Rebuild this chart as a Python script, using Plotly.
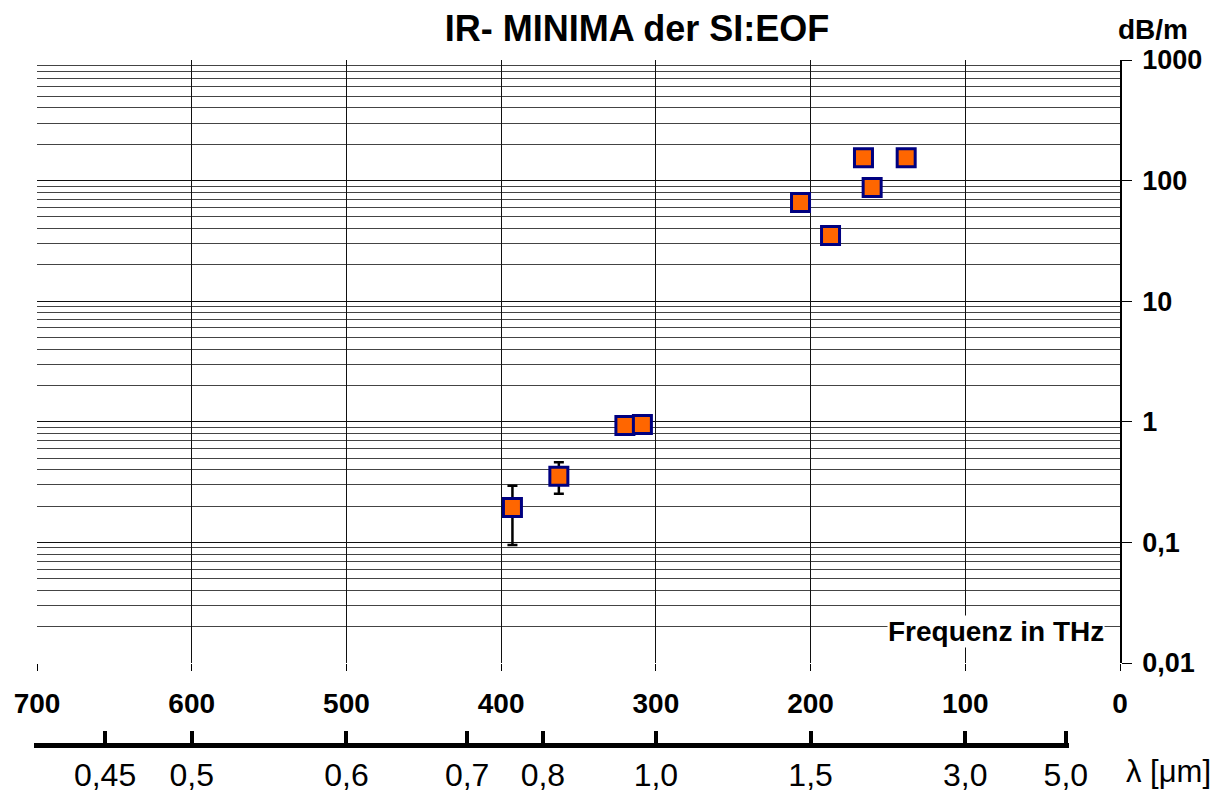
import plotly.graph_objects as go

# ---- data ----
freq_thz = [392.7, 362.7, 320.0, 308.7, 206.5, 187.1, 165.8, 160.2, 138.2]
loss_db_m = [0.195, 0.353, 0.93, 0.95, 65.7, 35.0, 155.0, 87.5, 155.0]
err_plus = [0.10, 0.11, None, None, None, None, None, None, None]
err_minus = [0.10, 0.10, None, None, None, None, None, None, None]

freq_ticks = [700, 600, 500, 400, 300, 200, 100, 0]
y_major = [0.01, 0.1, 1, 10, 100, 1000]
y_major_text = ["0,01", "0,1", "1", "10", "100", "1000"]

wl_tick_freq = [656, 600, 500, 422, 373, 300, 200, 100, 35]
wl_tick_text = ["0,45", "0,5", "0,6", "0,7", "0,8", "1,0", "1,5", "3,0", "5,0"]

FONT = "Liberation Sans, Arial, sans-serif"

# ---- layout geometry (page body has an 8px margin) ----
OFF = 8
W, H = 1230 - OFF, 798 - OFF
ml, mr, mt, mb = 34 - OFF, 110, 60 - OFF, 20 - OFF
plot_h = H - mt - mb
plot_w = W - ml - mr
x_left_px, x_right_px = 37 - OFF, 1120 - OFF
y_bottom_px = 663 - OFF
wl_line_px = 743 - OFF
ydom0 = (H - mb - y_bottom_px) / plot_h
wl_pos = (H - mb - wl_line_px) / plot_h
x_dom = [(x_left_px - ml) / plot_w, 1.0]
span_px = x_right_px - x_left_px
wl_start_px, wl_end_px = 34 - OFF, 1069 - OFF
wl_dom = [(wl_start_px - ml) / plot_w, (wl_end_px - ml) / plot_w]
x_range = [700, 0]
wl_range = [700 + (x_left_px - wl_start_px) / span_px * 700,
            700 - (wl_end_px - x_left_px) / span_px * 700]


def px_x(px):
    return (px - OFF - ml) / plot_w


def px_y(px):
    return (H - mb - (px - OFF)) / plot_h


minor_vals = [k * 10 ** d for d in range(-2, 3) for k in range(2, 10)]

fig = go.Figure()
fig.add_trace(go.Scatter(
    x=freq_thz, y=loss_db_m, mode="markers",
    marker=dict(symbol="square", size=18, color="#FF6600",
                line=dict(color="#000080", width=3)),
    error_y=dict(type="data", symmetric=False, array=err_plus,
                 arrayminus=err_minus, color="black", thickness=2.5, width=5),
    showlegend=False, hoverinfo="x+y",
))
# dummy trace to materialise the wavelength axis (separate thin subplot)
fig.add_trace(go.Scatter(x=wl_tick_freq, y=[None] * len(wl_tick_freq),
                         xaxis="x2", yaxis="y2", mode="markers",
                         showlegend=False, hoverinfo="skip"))

fig.update_layout(
    width=W, height=H,
    margin=dict(l=ml, r=mr, t=mt, b=mb),
    paper_bgcolor="white", plot_bgcolor="white",
    font=dict(family=FONT, color="black"),
    title=dict(text="<b>IR- MINIMA der SI:EOF</b>", xref="container",
               x=(637 - OFF) / W, xanchor="center", yref="container",
               y=1 - (28 - OFF) / H, yanchor="middle",
               font=dict(size=36, family=FONT, color="black")),
    xaxis=dict(range=x_range, domain=x_dom, anchor="y", automargin=False,
               tickvals=freq_ticks, ticktext=[f"<b>{v}</b>" for v in freq_ticks],
               tickfont=dict(size=28, family=FONT),
               showgrid=True, gridcolor="#111", gridwidth=1,
               zeroline=False, showline=False,
               ticks="outside", ticklen=7, tickcolor="black", tickwidth=1,
               ticklabelstandoff=8),
    yaxis=dict(type="log", range=[-2, 3], domain=[ydom0, 1], anchor="x",
               automargin=False,
               side="right", tickvals=y_major,
               ticktext=[f"<b>{t}</b>" for t in y_major_text],
               tickfont=dict(size=27, family=FONT),
               showgrid=True, gridcolor="#111", gridwidth=1,
               showline=True, linecolor="black", linewidth=1.5,
               ticks="outside", ticklen=10, tickcolor="black",
               zeroline=False, ticklabelstandoff=5,
               minor=dict(tickvals=minor_vals, showgrid=True,
                          gridcolor="#444", gridwidth=1, ticks="")),
    xaxis2=dict(range=wl_range, domain=wl_dom, anchor="y2", side="bottom",
                automargin=False,
                tickvals=wl_tick_freq, ticktext=wl_tick_text,
                tickfont=dict(size=32, family=FONT),
                showgrid=False, zeroline=False,
                showline=True, linecolor="black", linewidth=5,
                ticks="inside", ticklen=12, tickwidth=4, tickcolor="black",
                ticklabelstandoff=0),
    yaxis2=dict(domain=[wl_pos, wl_pos + 0.01], anchor="x2", visible=False,
                range=[0, 1], automargin=False),
    annotations=[
        dict(text="<b>Frequenz in THz</b>", xref="paper", yref="paper",
             x=px_x(1105), xanchor="right", y=px_y(631), yanchor="middle",
             showarrow=False, bgcolor="white",
             font=dict(size=28, family=FONT), borderpad=0),
        dict(text="<b>dB/m</b>", xref="paper", yref="paper",
             x=px_x(1153), xanchor="center", y=px_y(30), yanchor="middle",
             showarrow=False, font=dict(size=28, family=FONT)),
        dict(text="λ [μm]", xref="paper", yref="paper",
             x=px_x(1168), xanchor="center", y=px_y(771), yanchor="middle",
             showarrow=False, font=dict(size=31, family=FONT)),
    ],
)

fig.write_html("out.html")
